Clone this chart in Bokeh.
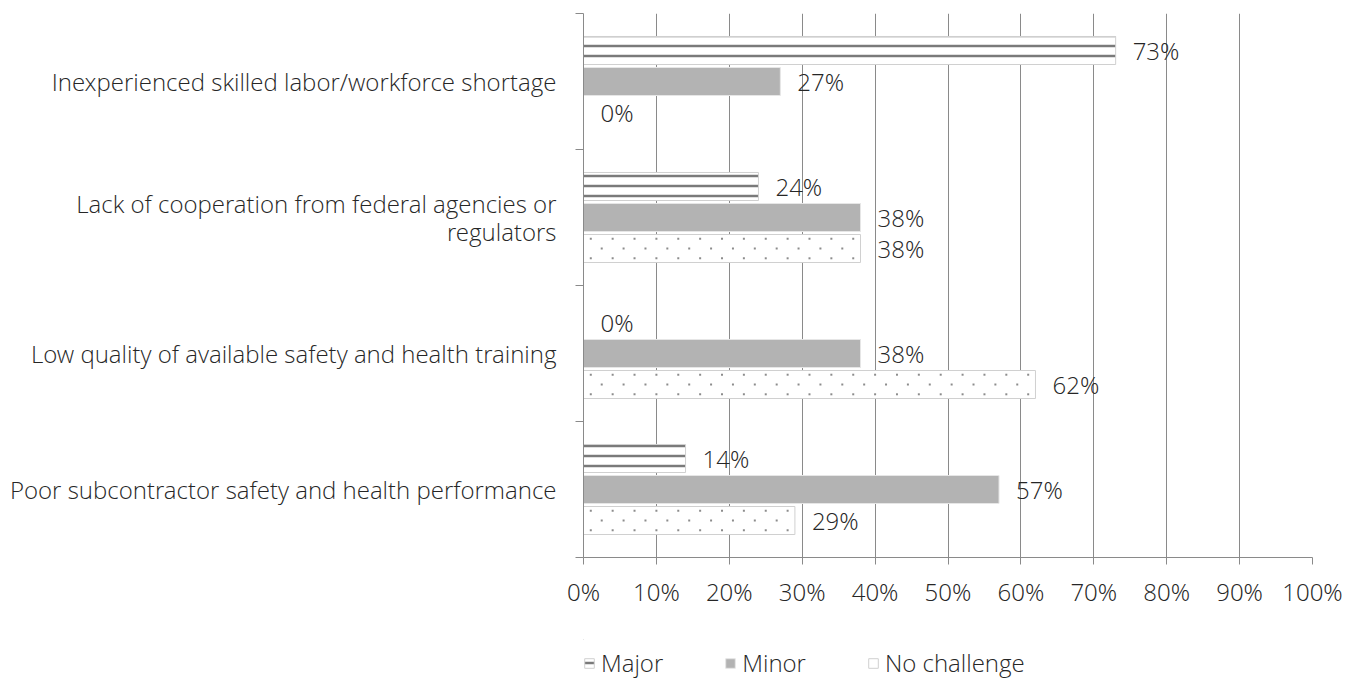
from bokeh.plotting import figure
from bokeh.layouts import column
from bokeh.models import ColumnDataSource, Range1d, FixedTicker, Legend, LegendItem
from bokeh.transform import dodge
from bokeh.core.properties import value
from bokeh.embed import file_html
from bokeh.resources import INLINE

categories = [
    "Inexperienced skilled labor/workforce shortage",
    "Lack of cooperation from federal agencies or\nregulators",
    "Low quality of available safety and health training",
    "Poor subcontractor safety and health performance",
]
series_names = ["Major", "Minor", "No challenge"]
major = [73, 24, 0, 14]
minor = [27, 38, 38, 57]
no_challenge = [0, 38, 62, 29]
x_ticks = [0, 10, 20, 30, 40, 50, 60, 70, 80, 90, 100]

FONT = "Open Sans Light, Open Sans"
FS = "24px"
TXT = "#262626"
GRID = "#8a8a8a"

pos = [i + 0.5 for i in range(len(categories))]
src = ColumnDataSource(dict(
    pos=pos,
    major=major, minor=minor, nochal=no_challenge,
    major_lbl=[f"{v}%" for v in major],
    minor_lbl=[f"{v}%" for v in minor],
    nochal_lbl=[f"{v}%" for v in no_challenge],
))

p = figure(
    output_backend="svg", toolbar_location=None,
    frame_width=729, frame_height=544,
    min_border_left=583, min_border_right=41, min_border_top=13, min_border_bottom=82,
    x_range=Range1d(0, 100), y_range=Range1d(len(categories), 0),
)
p.outline_line_color = None
p.background_fill_color = "white"

p.xaxis.ticker = FixedTicker(ticks=x_ticks)
p.xaxis.major_label_overrides = {t: f"{t}%" for t in x_ticks}
p.xaxis.axis_line_color = GRID
p.xaxis.major_tick_line_color = GRID
p.xaxis.major_tick_in = 0
p.xaxis.major_tick_out = 7
p.xaxis.minor_tick_line_color = None
p.xaxis.major_label_standoff = 10
p.xaxis.major_label_text_font = FONT
p.xaxis.major_label_text_font_size = FS
p.xaxis.major_label_text_color = TXT

p.yaxis.ticker = FixedTicker(ticks=pos, minor_ticks=list(range(len(categories) + 1)))
p.yaxis.major_label_overrides = {pp: c for pp, c in zip(pos, categories)}
p.yaxis.axis_line_color = GRID
p.yaxis.major_tick_line_color = None
p.yaxis.major_tick_out = 0
p.yaxis.minor_tick_line_color = GRID
p.yaxis.minor_tick_in = 0
p.yaxis.minor_tick_out = 8
p.yaxis.major_label_standoff = 19
p.yaxis.major_label_text_font = FONT
p.yaxis.major_label_text_font_size = FS
p.yaxis.major_label_text_color = TXT
p.yaxis.major_label_text_line_height = 0.85

p.xgrid.ticker = FixedTicker(ticks=x_ticks)
p.xgrid.grid_line_color = GRID
p.ygrid.grid_line_color = None

H = 0.206
OFF = 0.228
DOT = "#8c8c8c"

MAJOR_STYLE = dict(fill_color="white", hatch_pattern="horizontal_line", hatch_color="#7a7a7a",
                   hatch_scale=10, hatch_weight=2.5, line_color="#d0d0d0", line_width=1)
MINOR_STYLE = dict(fill_color="#b3b3b3", line_color="#e6e6e6", line_width=1)
NOCH_STYLE = dict(fill_color="white", line_color="#d0d0d0", line_width=1)

p.hbar(y=dodge("pos", -OFF, range=p.y_range), left=0, right="major", height=H, source=src, **MAJOR_STYLE)
p.hbar(y=dodge("pos", 0, range=p.y_range), left=0, right="minor", height=H, source=src, **MINOR_STYLE)
p.hbar(y=dodge("pos", OFF, range=p.y_range), left=0, right="nochal", height=H, source=src, **NOCH_STYLE)

# dotted fill of the "No challenge" bars, laid out along each bar's own length
dot_x, dot_y = [], []
for pp, v in zip(pos, no_challenge):
    for dy, start in ((-0.072, 1.0), (0.0, 2.5), (0.072, 1.0)):
        xx = start
        while xx < v - 0.5:
            dot_x.append(xx)
            dot_y.append(pp + OFF + dy)
            xx += 3.0
p.scatter(x=dot_x, y=dot_y, marker="square", size=2, fill_color=DOT, line_color=None)

for col, off in (("major", -OFF), ("minor", 0), ("nochal", OFF)):
    p.text(x=col, y=dodge("pos", off, range=p.y_range), text=col + "_lbl", source=src,
           x_offset=17, y_offset=0, text_baseline="middle", text_align="left",
           text_font=value(FONT), text_font_size=FS, text_color=TXT)

# legend strip below the chart (legend proxies lie outside its visible range)
lg = figure(
    output_backend="svg", toolbar_location=None,
    width=1353, height=40, min_border=0,
    x_range=Range1d(0, 1), y_range=Range1d(0, 1),
)
lg.axis.visible = False
lg.grid.grid_line_color = None
lg.outline_line_color = None


def proxy(style):
    s = ColumnDataSource(dict(y=[5.0], right=[0.0]))
    return lg.hbar(y="y", left=0, right="right", height=0.1, source=s, **style)


l_major = proxy(MAJOR_STYLE)
l_minor = proxy(MINOR_STYLE)
l_noch = proxy(NOCH_STYLE)

legend = Legend(
    items=[LegendItem(label=series_names[0], renderers=[l_major]),
           LegendItem(label=series_names[1], renderers=[l_minor]),
           LegendItem(label=series_names[2], renderers=[l_noch])],
    orientation="horizontal", location=(0, 0),
    border_line_color=None, background_fill_alpha=0,
    label_text_font=FONT, label_text_font_size=FS, label_text_color=TXT,
    glyph_width=12, glyph_height=12, spacing=61, label_standoff=6,
    padding=0, margin=0,
)
lg.add_layout(legend)

layout = column(p, lg, spacing=0)
open("out.html", "w").write(file_html(layout, INLINE))
